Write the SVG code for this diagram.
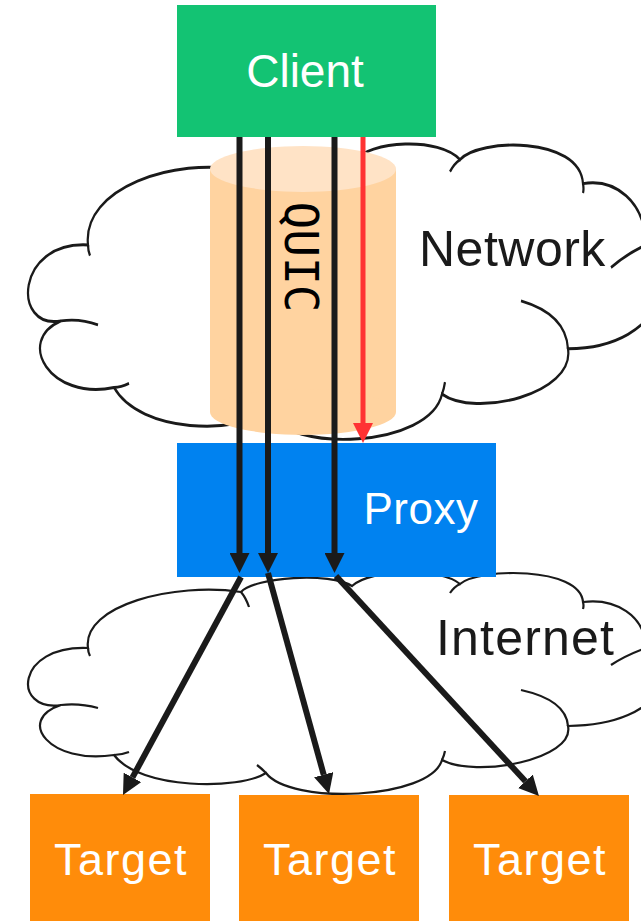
<svg xmlns="http://www.w3.org/2000/svg" width="641" height="921" viewBox="0 0 641 921">
<style>
.cloud{fill:#ffffff;stroke:#1a1a1a;stroke-width:2.2;vector-effect:non-scaling-stroke}
.stub{fill:none;stroke:#1a1a1a;stroke-width:2.2;vector-effect:non-scaling-stroke}
.lbl{font-family:"Liberation Sans",Arial,sans-serif;fill:#ffffff;text-anchor:middle}
.dark{font-family:"Liberation Sans",Arial,sans-serif;fill:#1a1a1a}
.blk{stroke:#1a1a1a;stroke-width:6;fill:none}
.red{stroke:#ff3333;stroke-width:5;fill:none}
.tgt{fill:#ff8c0a}
</style>
<defs>
<path id="cloudShape" d="M61,705 C12,712 15,645 88,648 C82,605 175,582 241,592 C255,577 330,572 352,586 C370,569 440,567 460,584 C478,568 580,566 583,602 C615,598 645,615 646,648 C680,660 670,725 568,726 C575,760 475,778 442,760 C430,800 290,805 266,773 C240,790 140,790 114,755 C50,765 15,720 61,705 Z"/>
<path id="cloudStubs" d="M61,705 Q80,703 98,708 M88,648 Q88,652 90,656 M114,755 Q121,755 129,752 M266,773 Q261,768 257,765 M442,760 Q444,756 445,751 M568,726 Q566,700 521,690 M611,665 Q626,655 646,648 M583,602 Q584,606 583,609 M460,584 Q454,587 450,593 M241,592 Q246,598 249,607"/>
<marker id="ah" markerUnits="userSpaceOnUse" markerWidth="20" markerHeight="20" refX="0" refY="10" orient="auto" viewBox="0 0 20 20">
<path d="M0,0 L20,10 L0,20 Z" fill="#1a1a1a"/>
</marker>
<marker id="ahr" markerUnits="userSpaceOnUse" markerWidth="20" markerHeight="20" refX="0" refY="10" orient="auto" viewBox="0 0 20 20">
<path d="M0,0 L20,10 L0,20 Z" fill="#ff3333"/>
</marker>
</defs>

<g id="network">
<g transform="matrix(1 0 0 1.332 0 -618.2)">
<use href="#cloudShape" class="cloud"/>
<use href="#cloudStubs" class="stub"/>
</g>
<text class="dark" x="419" y="266" font-size="50" letter-spacing="0.5">Network</text>
</g>

<g id="internet">
<use href="#cloudShape" class="cloud"/>
<use href="#cloudStubs" class="stub"/>
<text class="dark" x="436" y="655" font-size="50" letter-spacing="1.2">Internet</text>
</g>

<g id="quic">
<rect x="210" y="169" width="186" height="243" fill="#ffd3a0"/>
<ellipse cx="303" cy="412" rx="93" ry="23" fill="#ffd3a0"/>
<ellipse cx="303" cy="169" rx="93" ry="23" fill="#ffe3c6"/>
<text transform="translate(285,257) rotate(90)" font-family="'DejaVu Sans Mono','Liberation Mono',monospace" font-size="46" fill="#000000" text-anchor="middle">QUIC</text>
</g>

<g id="client">
<rect x="177" y="5" width="259" height="132" fill="#13c373"/>
<text class="lbl" x="305" y="87" font-size="46">Client</text>
</g>

<g id="proxy">
<rect x="177" y="443" width="319" height="134" fill="#0082f0"/>
<text class="lbl" x="421" y="524" font-size="44" letter-spacing="0.5">Proxy</text>
</g>

<g id="target1">
<rect class="tgt" x="30" y="794" width="180" height="127"/>
<text class="lbl" x="121" y="875" font-size="45" letter-spacing="1.5">Target</text>
</g>
<g id="target2">
<rect class="tgt" x="239" y="795" width="180" height="126"/>
<text class="lbl" x="330" y="875" font-size="45" letter-spacing="1.5">Target</text>
</g>
<g id="target3">
<rect class="tgt" x="449" y="795" width="180" height="126"/>
<text class="lbl" x="540" y="875" font-size="45" letter-spacing="1.5">Target</text>
</g>

<g id="connectors">
<line class="blk" x1="239.5" y1="137" x2="239.5" y2="553" marker-end="url(#ah)"/>
<line class="blk" x1="268" y1="137" x2="268" y2="553" marker-end="url(#ah)"/>
<line class="blk" x1="334.5" y1="137" x2="334.5" y2="553" marker-end="url(#ah)"/>
<line class="red" x1="363" y1="137" x2="363" y2="423" marker-end="url(#ahr)"/>
<line class="blk" x1="241" y1="577" x2="132.5" y2="777.4" marker-end="url(#ah)"/>
<line class="blk" x1="268" y1="573" x2="323.7" y2="774.7" marker-end="url(#ah)"/>
<line class="blk" x1="336" y1="576" x2="525.4" y2="781.3" marker-end="url(#ah)"/>
</g>
</svg>
